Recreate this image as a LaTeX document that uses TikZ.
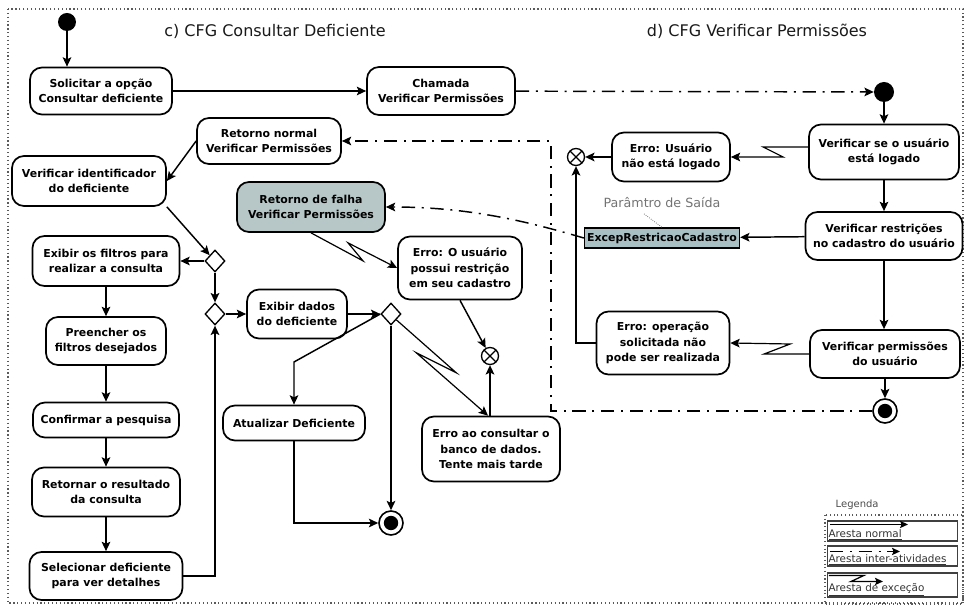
\documentclass[tikz,border=0pt]{standalone}
\usepackage{fontspec}
\setmainfont{DejaVu Sans}
\usetikzlibrary{arrows.meta,shapes.geometric,calc}
\definecolor{failfill}{RGB}{183,199,199}
\definecolor{paramfill}{RGB}{168,192,196}
\definecolor{framegray}{RGB}{90,90,90}

\tikzset{
  sz/.style 2 args={minimum width=#1*0.75pt, minimum height=#2*0.75pt},
  act/.style={draw, line width=1.3pt, rounded corners=9pt, fill=white, align=center,
    inner sep=0pt, font=\fontsize{8.2}{11.5}\selectfont\bfseries},
  param/.style={draw, line width=1pt, fill=paramfill, inner sep=0pt,
    minimum width=155*0.75pt, minimum height=20*0.75pt, font=\fontsize{8.2}{10}\selectfont\bfseries},
  decision/.style={diamond, draw, line width=1pt, fill=white, inner sep=0pt,
    minimum width=20*0.75pt, minimum height=22*0.75pt},
  startnode/.style={circle, fill=black, inner sep=0pt, minimum size=18*0.75pt},
  endnode/.style={circle, draw, line width=1.2pt, fill=white, inner sep=0pt, minimum size=24*0.75pt,
    path picture={\fill[black] (path picture bounding box.center) circle (5.4pt);}},
  flowend/.style={circle, draw, line width=1pt, fill=white, inner sep=0pt, minimum size=17*0.75pt,
    path picture={\draw[black, line width=0.9pt] (path picture bounding box.north west) -- (path picture bounding box.south east)
      (path picture bounding box.north east) -- (path picture bounding box.south west);}},
  tip/.style={-{Stealth[length=7pt,width=6.5pt,inset=1.5pt]}},
  flow/.style={line width=1.1pt, tip},
  inter/.style={line width=1.1pt, tip, dash pattern=on 10pt off 5pt on 1.5pt off 5pt},
  exc/.style={line width=0.9pt, tip, line join=miter},
  title/.style={font=\fontsize{12}{14}\selectfont, text=black!90},
  legbox/.style={draw, line width=0.8pt, draw=black!75, inner sep=0pt},
  legtext/.style={font=\fontsize{7.8}{9}\selectfont, inner sep=1pt, text=black!80},
  legtip/.style={line width=0.9pt, -{Stealth[length=6pt,width=5.5pt,inset=1.2pt]}}
}

\begin{document}
\begin{tikzpicture}[x=0.75pt,y=-0.75pt]
\useasboundingbox (0,0) rectangle (964,605);

% outer frame
\draw[dotted, framegray, line width=0.9pt] (8,9) rectangle (963,603);

% titles
\node[title] (tc) at (275,31) {c) CFG Consultar Deficiente};
\node[title] (td) at (757,31) {d) CFG Verificar Permissões};

% ---------- c) CFG Consultar Deficiente ----------
\node[startnode] (i1) at (67,22) {};
\node[act,sz={142}{47}] (sol) at (101,91) {Solicitar a opção\\Consultar deficiente};
\node[act,sz={148}{48}] (cham) at (441,91) {Chamada\\Verificar Permissões};
\node[act,sz={144}{46}] (retn) at (269,141) {Retorno normal\\Verificar Permissões};
\node[act,sz={154}{50}] (vid) at (89,181) {Verificar identificador\\do deficiente};
\node[act,sz={148}{50},fill=failfill] (retf) at (311,207) {Retorno de falha\\Verificar Permissões};
\node[act,sz={147}{50}] (filt) at (106,261) {Exibir os filtros para\\realizar a consulta};
\node[act,sz={124}{63}] (erros) at (460,268) {Erro: O usuário\\possui restrição\\em seu cadastro};
\node[act,sz={100}{49}] (dados) at (297,314) {Exibir dados\\do deficiente};
\node[act,sz={120}{48}] (pre) at (106,341) {Preencher os\\filtros desejados};
\node[act,sz={146}{35}] (conf) at (106,420) {Confirmar a pesquisa};
\node[act,sz={142}{35}] (atu) at (294,423) {Atualizar Deficiente};
\node[act,sz={138}{65}] (errbd) at (491,449) {Erro ao consultar o\\banco de dados.\\Tente mais tarde};
\node[act,sz={148}{49}] (ret) at (106,492) {Retornar o resultado\\da consulta};
\node[act,sz={153}{48}] (sel) at (106,576) {Selecionar deficiente\\para ver detalhes};

\node[decision] (d1) at (215,261) {};
\node[decision] (d2) at (215,314) {};
\node[decision] (d3) at (391,314) {};
\node[flowend] (x2) at (490,356) {};
\node[endnode] (f1) at (391,523) {};

% ---------- d) CFG Verificar Permissões ----------
\node[startnode, minimum size=20*0.75pt] (i2) at (884,92) {};
\node[act,sz={150}{55}] (vlog) at (884,152) {Verificar se o usuário\\está logado};
\node[act,sz={118}{49}] (erru) at (671,157) {Erro: Usuário\\não está logado};
\node[flowend] (x1) at (576,157) {};
\node[act,sz={157}{48}] (vres) at (884,236) {Verificar restrições\\no cadastro do usuário};
\node[param] (param) at (662,238) {ExcepRestricaoCadastro};
\node[font=\fontsize{9.5}{11}\selectfont, text=black!55] (plabel) at (662,203) {Parâmtro de Saída};
\node[act,sz={150}{48}] (vperm) at (885,354) {Verificar permissões\\do usuário};
\node[act,sz={133}{63}] (errop) at (663,343) {Erro: operação\\solicitada não\\pode ser realizada};
\node[endnode] (f2) at (885,411) {};
\coordinate (bnd) at (551,141);
\coordinate (abend) at (294,362);

% ---------- connectors of c) ----------
\draw[flow] (i1.south) -- (i1.south |- sol.north);
\draw[flow] (sol) -- (cham);
\draw[inter] (cham) -- (i2);
\draw[flow] (retn.west) -- (vid.east);
\draw[flow] (vid.south east) -- (d1.north west);
\draw[flow] (d1) -- (filt);
\draw[flow] (d1) -- (d2);
\draw[flow] (filt) -- (pre);
\draw[flow] (pre) -- (conf);
\draw[flow] (conf) -- (ret);
\draw[flow] (ret) -- (sel);
\draw[flow] (sel.east) -| (d2.south);
\draw[flow] (d2) -- (dados);
\draw[flow] (dados) -- (d3);
\draw[flow] (d3.west) -- (abend) -- (atu.north);
\draw[flow] (d3) -- (f1);
\draw[flow] (atu.south) |- (f1.west);
\draw[exc] (d3.south east) -- ++(60,53) -- ++(-40,-20) -- ($(errbd.north)+(-3,0)$);
\draw[exc] (retf.south) -- ++(52,28) -- ++(-15,-18) -- (erros.west);
\draw[flow] (erros.south) -- (x2);
\draw[flow] (x2.south |- errbd.north) -- (x2.south);

% ---------- connectors of d) ----------
\draw[flow] (i2) -- (i2 |- vlog.north);
\draw[exc] ($(vlog.west)+(0,-5)$) -- ++(-45,0) -- ++(20,10) -- (erru.east);
\draw[flow] (erru) -- (x1);
\draw[flow] (vlog) -- (vres);
\draw[flow] (vres) -- (param);
\draw[line width=0.6pt, densely dotted, black!55] ($(plabel.south)+(-18,1)$) -- (param.north);
\draw[inter] (param.west) .. controls +(-55,-16) and +(85,0) .. (retf.east);
\draw[flow] (vres.south) -- (vres.south |- vperm.north);
\draw[exc] (vperm.west) -- ++(-45,0) -- ++(26,-10) -- (errop.east);
\draw[flow] (errop.west) -| (x1.south);
\draw[flow] (vperm) -- (f2);
\draw[inter] (f2.west) -| (bnd) -- (retn.east);

% ---------- legend ----------
\node[font=\fontsize{7.5}{9}\selectfont, text=black!70, anchor=west] (leg) at (831,505) {Legenda};
\draw[dotted, framegray, line width=0.8pt] (825,515) rectangle (963,604);
\node[legbox, sz={130}{20}] (lg1) at (892.5,531) {};
\node[legbox, sz={130}{20}] (lg2) at (892.5,556) {};
\node[legbox, sz={130}{24}] (lg3) at (892.5,585) {};
\node[legtext, anchor=south west] (lt1) at (lg1.south west) {\underline{Aresta normal}};
\node[legtext, anchor=south west] (lt2) at (lg2.south west) {\underline{Aresta inter-atividades}};
\node[legtext, anchor=south west] (lt3) at (lg3.south west) {\underline{Aresta de exceção}};
\draw[legtip] ($(lg1.north west)+(3,4)$) -- ++(78,0);
\draw[legtip, dash pattern=on 10pt off 5pt on 1.5pt off 5pt] ($(lg2.north west)+(3,6)$) -- ++(70,0);
\draw[legtip, line join=miter] ($(lg3.north west)+(2,3)$) -- ++(35,0) -- ++(-13,6) -- ++(32,0);
\end{tikzpicture}
\end{document}
